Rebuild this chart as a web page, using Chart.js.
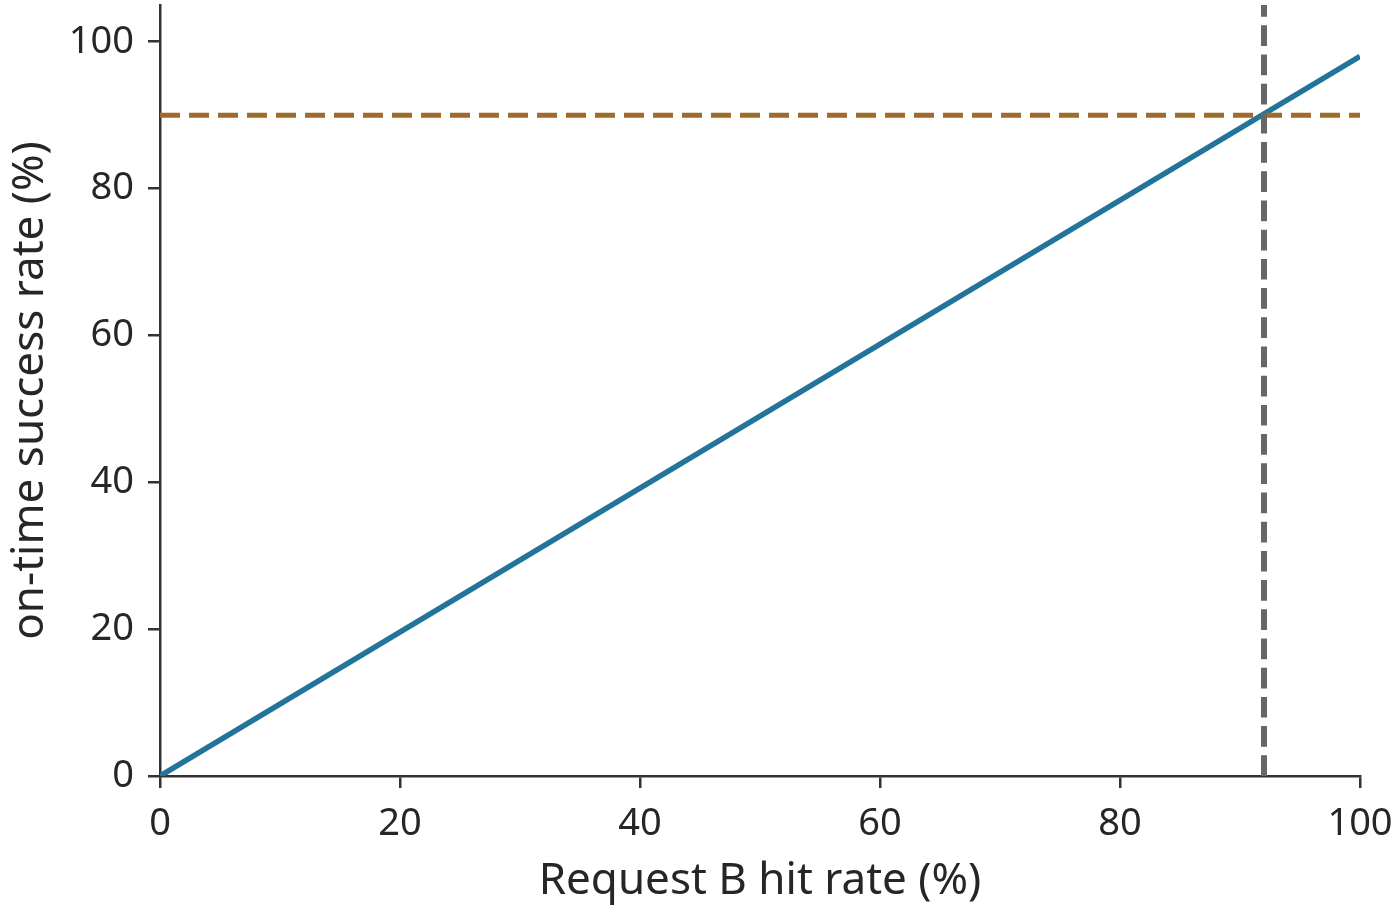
<!DOCTYPE html>
<html>
<head>
<meta charset="utf-8">
<script src="https://cdn.jsdelivr.net/npm/chart.js@4.4.1/dist/chart.umd.min.js"></script>
<style>
  html, body { margin: 0; padding: 0; background: #fff; }
  #wrap { width: 1400px; height: 911px; }
</style>
</head>
<body>
<div id="wrap"><canvas id="chart" width="1400" height="911"></canvas></div>
<script>
// values
var hitRate = [0, 100];          // Request B hit rate (%)
var successRate = [0, 98];       // on-time success rate (%)
var targetSuccess = 90;          // horizontal reference line
var requiredHit = 92;            // vertical reference line
var xTicks = [0, 20, 40, 60, 80, 100];
var yTicks = [0, 20, 40, 60, 80, 100];
var Y_MAX = 105;

var FONT = "'Noto Sans', sans-serif";
var TEXT = "#262626";
var AXIS = "#333333";

function pairs(xs, ys) {
  return xs.map(function (x, i) { return { x: x, y: ys[i] }; });
}

// fixed tick list, so chart.js does not swap 100 for the axis max
function useTicks(list) {
  return function (scale) {
    scale.ticks = list.map(function (v) { return { value: v }; });
  };
}

// no extra room for half labels at the ends of the axes
function fitTo(size) {
  return function (s) {
    if (s.isHorizontal()) s.height = size; else s.width = size;
    s.paddingTop = 0;
    s.paddingBottom = 0;
    s.paddingLeft = 0;
    s.paddingRight = 0;
  };
}

var ctx = document.getElementById("chart");
new Chart(ctx, {
  type: "line",
  data: {
    datasets: [
      {
        label: "success",
        data: pairs(hitRate, successRate),
        borderColor: "#23749a",
        borderWidth: 5.5,
        pointRadius: 0,
        order: 3,
      },
      {
        label: "target",
        data: pairs([0, 100], [targetSuccess, targetSuccess]),
        borderColor: "#a06a28",
        borderWidth: 5,
        borderDash: [20, 9],
        pointRadius: 0,
        order: 2,
      },
      {
        label: "required",
        data: pairs([requiredHit, requiredHit], [0, Y_MAX]),
        borderColor: "#676767",
        borderWidth: 6,
        borderDash: [20.7, 8.5],
        pointRadius: 0,
        order: 1,
      },
    ],
  },
  options: {
    responsive: false,
    animation: false,
    layout: { padding: { left: 0, top: 5, right: 40, bottom: 0 } },
    plugins: { legend: { display: false }, tooltip: { enabled: false } },
    scales: {
      x: {
        type: "linear",
        min: 0,
        max: 100,
        afterBuildTicks: useTicks(xTicks),
        afterFit: fitTo(135),
        border: { display: true, color: AXIS, width: 2.5 },
        grid: { drawOnChartArea: false, drawTicks: true, tickLength: 12, color: AXIS, lineWidth: 2.5 },
        ticks: { color: TEXT, padding: 13, maxRotation: 0, font: { family: FONT, size: 38 } },
        title: { display: true, text: "Request B hit rate (%)", color: TEXT, padding: { top: 0, bottom: 3 }, font: { family: FONT, size: 44 } },
      },
      y: {
        type: "linear",
        min: 0,
        max: Y_MAX,
        afterBuildTicks: useTicks(yTicks),
        afterFit: fitTo(160),
        border: { display: true, color: AXIS, width: 2.5 },
        grid: { drawOnChartArea: false, drawTicks: true, tickLength: 12, color: AXIS, lineWidth: 2.5 },
        ticks: { color: TEXT, padding: 14, font: { family: FONT, size: 38 } },
        title: { display: true, text: "on-time success rate (%)", color: TEXT, padding: { top: 4, bottom: 0 }, font: { family: FONT, size: 44 } },
      },
    },
  },
});
</script>
</body>
</html>
